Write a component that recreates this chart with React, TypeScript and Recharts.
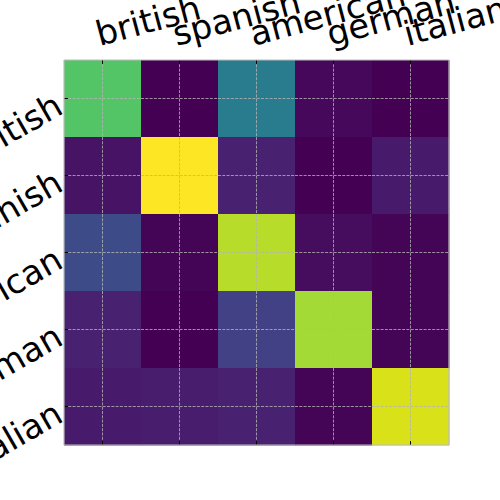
import React from "react";
import { ScatterChart, Scatter, XAxis, YAxis } from "recharts";

const LABELS = ["british", "spanish", "american", "german", "italian"];

// one row per true class, values as a fraction of the colour scale
const ROW_BRITISH = [0.73, 0.0, 0.41, 0.02, 0.0];
const ROW_SPANISH = [0.05, 1.0, 0.09, 0.0, 0.07];
const ROW_AMERICAN = [0.23, 0.01, 0.89, 0.03, 0.01];
const ROW_GERMAN = [0.09, 0.0, 0.19, 0.86, 0.01];
const ROW_ITALIAN = [0.07, 0.08, 0.09, 0.01, 0.94];

const ROWS = [ROW_BRITISH, ROW_SPANISH, ROW_AMERICAN, ROW_GERMAN, ROW_ITALIAN];

const VIRIDIS = [
  "#440154", "#481769", "#472d7b", "#424086", "#3b528b", "#33638d", "#2c728e", "#26828e",
  "#21918c", "#1fa088", "#28ae80", "#3fbc73", "#5ec962", "#84d44b", "#addc30", "#d8e219", "#fde725",
];

function hexToRgb(h: string) {
  return [1, 3, 5].map((i) => parseInt(h.slice(i, i + 2), 16));
}

function viridis(t: number) {
  const p = Math.max(0, Math.min(1, t)) * (VIRIDIS.length - 1);
  const i = Math.min(Math.floor(p), VIRIDIS.length - 2);
  const f = p - i;
  const a = hexToRgb(VIRIDIS[i]);
  const b = hexToRgb(VIRIDIS[i + 1]);
  const c = a.map((v, k) => Math.round(v + (b[k] - v) * f));
  return `rgb(${c[0]},${c[1]},${c[2]})`;
}

const W = 500;
const H = 500;
const LEFT = 64;
const TOP = 60;
const PLOT = 385;
const CELL = PLOT / 5;
const FONT = "DejaVu Sans";
const FONT_SIZE = 34;
const GRID = "#b4b4b4";
const FRAME = "#bcbcbc";

const cells = ROWS.flatMap((row, r) => row.map((v, c) => ({ x: c, y: r, v })));
const idx = [0, 1, 2, 3, 4];

const CellShape = (props: any) => {
  const { cx, cy, payload } = props;
  return (
    <rect x={cx - CELL / 2} y={cy - CELL / 2} width={CELL + 0.5} height={CELL + 0.5} fill={viridis(payload.v)} />
  );
};

// grid lines, inward ticks and frame, drawn per cell on top of the colours
const OverlayShape = (props: any) => {
  const { cx, cy, payload } = props;
  const h = CELL / 2;
  const l = cx - h, r = cx + h, t = cy - h, b = cy + h;
  return (
    <g>
      <line x1={l} x2={r} y1={cy} y2={cy} stroke={GRID} strokeWidth={0.8} strokeDasharray="3 1.3" />
      <line x1={cx} x2={cx} y1={t} y2={b} stroke={GRID} strokeWidth={0.8} strokeDasharray="3 1.3" />
      {payload.y === 0 && <line x1={cx} x2={cx} y1={t} y2={t + 4} stroke="#000" strokeWidth={1} />}
      {payload.y === 4 && <line x1={cx} x2={cx} y1={b - 4} y2={b} stroke="#000" strokeWidth={1} />}
      {payload.x === 0 && <line x1={l} x2={l + 4} y1={cy} y2={cy} stroke="#000" strokeWidth={1} />}
      {payload.y === 0 && <line x1={l} x2={r} y1={t} y2={t} stroke={FRAME} strokeWidth={1.2} />}
      {payload.y === 4 && <line x1={l} x2={r} y1={b} y2={b} stroke={FRAME} strokeWidth={1.2} />}
      {payload.x === 0 && <line x1={l} x2={l} y1={t} y2={b} stroke={FRAME} strokeWidth={1.2} />}
      {payload.x === 4 && <line x1={r} x2={r} y1={t} y2={b} stroke={FRAME} strokeWidth={1.2} />}
    </g>
  );
};

const XTick = (props: any) => {
  const { x, payload } = props;
  const tx = x - 3;
  const ty = TOP - 14;
  return (
    <text x={tx} y={ty} textAnchor="start" fontSize={FONT_SIZE} fontFamily={FONT} fill="#000" transform={`rotate(-15, ${tx}, ${ty})`}>
      {LABELS[payload.value]}
    </text>
  );
};

const YTick = (props: any) => {
  const { y, payload } = props;
  const tx = LEFT + 1;
  const ty = y + 14;
  return (
    <text x={tx} y={ty} textAnchor="end" fontSize={FONT_SIZE} fontFamily={FONT} fill="#000" transform={`rotate(-30, ${tx}, ${ty})`}>
      {LABELS[payload.value]}
    </text>
  );
};

export default function App() {
  return (
    <div style={{ position: "absolute", left: 0, top: 0, width: W, height: H, background: "#fff" }}>
      <ScatterChart width={W} height={H} margin={{ top: 0, left: 0, right: W - LEFT - PLOT, bottom: H - TOP - PLOT }}>
        <XAxis
          type="number"
          dataKey="x"
          orientation="top"
          domain={[-0.5, 4.5]}
          ticks={idx}
          height={TOP}
          tickSize={0}
          tickLine={false}
          axisLine={false}
          tick={<XTick />}
          interval={0}
        />
        <YAxis
          type="number"
          dataKey="y"
          domain={[-0.5, 4.5]}
          reversed
          ticks={idx}
          width={LEFT}
          tickSize={0}
          tickLine={false}
          axisLine={false}
          tick={<YTick />}
          interval={0}
        />
        <Scatter data={cells} shape={<CellShape />} isAnimationActive={false} />
        <Scatter data={cells} shape={<OverlayShape />} isAnimationActive={false} />
      </ScatterChart>
    </div>
  );
}
